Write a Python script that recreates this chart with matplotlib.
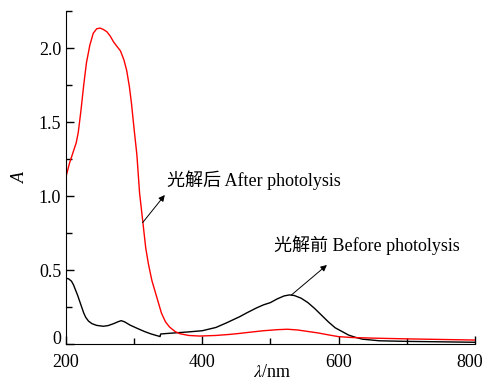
import matplotlib
matplotlib.use('Agg')
import matplotlib.pyplot as plt
import matplotlib.transforms as mtransforms
from matplotlib.ticker import MultipleLocator

plt.rcParams['font.family'] = ['Liberation Serif', 'Noto Sans CJK SC']
plt.rcParams['mathtext.fontset'] = 'stix'

# absorbance before photolysis (black)
wl_before = [200, 204, 208, 211, 214, 217, 220, 223, 226, 229, 233, 238, 245, 255, 262, 270, 276, 281, 286,
             294, 305, 315, 325, 337, 338, 339, 350, 362, 380, 400, 420, 435, 455, 465,
             480, 490, 500, 510, 520, 528, 535, 545, 555, 565, 575, 585, 595, 605, 615,
             625, 635, 660, 700, 750, 800]
a_before = [0.445, 0.44, 0.425, 0.40, 0.365, 0.33, 0.29, 0.25, 0.21, 0.18, 0.155, 0.138, 0.126, 0.12, 0.125, 0.138, 0.15, 0.158, 0.15,
            0.128, 0.105, 0.085, 0.068, 0.052, 0.05, 0.068, 0.072, 0.076, 0.082, 0.09, 0.112, 0.142, 0.185, 0.21,
            0.245, 0.265, 0.28, 0.305, 0.325, 0.332, 0.328, 0.31, 0.28, 0.24, 0.195, 0.15, 0.11, 0.085, 0.06,
            0.045, 0.033, 0.022, 0.018, 0.015, 0.012]

# absorbance after photolysis (red)
wl_after = [200, 205, 210, 215, 218, 222, 226, 230, 235, 240, 245, 250, 255, 260, 265, 270, 275, 280,
            285, 289, 293, 296, 300, 304, 308, 313, 317, 321, 326, 333, 340, 346, 352, 360, 367, 380,
            396, 420, 440, 455, 470, 490, 510, 525, 540, 555, 570, 585, 600, 620, 650, 700, 750, 800]
a_after = [1.13, 1.22, 1.29, 1.36, 1.43, 1.58, 1.75, 1.9, 2.02, 2.1, 2.13, 2.135, 2.125, 2.11, 2.08, 2.04, 2.01, 1.98,
           1.92, 1.85, 1.74, 1.63, 1.45, 1.28, 1.02, 0.815, 0.65, 0.54, 0.43, 0.32, 0.21, 0.15, 0.115, 0.085, 0.07, 0.058,
           0.054, 0.058, 0.065, 0.072, 0.08, 0.09, 0.097, 0.1, 0.095, 0.085, 0.075, 0.062, 0.05, 0.044, 0.04, 0.035, 0.031, 0.027]

x_ticks = [200, 400, 600, 800]
y_ticks = [0, 0.5, 1.0, 1.5, 2.0]
y_labels = ['0', '0.5', '1.0', '1.5', '2.0']

fig = plt.figure(figsize=(4.86, 3.81), dpi=100)
ax = fig.add_axes([0.1358, 0.097, 0.8412, 0.874])

ax.plot(wl_before, a_before, color='black', lw=1.0)
ax.plot(wl_after, a_after, color='#ff0000', lw=1.0)

ax.set_xlim(200, 800)
ax.set_ylim(0, 2.25)
ax.set_xticks(x_ticks)
ax.set_yticks(y_ticks)
ax.set_yticklabels(y_labels)
ax.xaxis.set_minor_locator(MultipleLocator(100))
ax.yaxis.set_minor_locator(MultipleLocator(0.25))
ax.tick_params(which='major', direction='in', length=6, width=1, labelsize=13)
ax.tick_params(which='minor', direction='in', length=4, width=1)
ax.tick_params(axis='x', pad=7)
ax.spines['top'].set_visible(False)
ax.spines['right'].set_visible(False)

# nudge the "0" up and the "800" left, as in the original
fig.canvas.draw()
ax.get_yticklabels()[0].set_transform(
    ax.get_yticklabels()[0].get_transform() + mtransforms.ScaledTranslation(0, 5 / 72, fig.dpi_scale_trans))
ax.get_xticklabels()[-1].set_transform(
    ax.get_xticklabels()[-1].get_transform() + mtransforms.ScaledTranslation(-4 / 72, 0, fig.dpi_scale_trans))

fig.text(0.56, 0.021, r'$\lambda$/nm', fontsize=13, ha='center', va='center')
ax.set_ylabel('A', fontsize=13, style='italic', labelpad=7)

arrow = dict(arrowstyle='-|>', color='black', lw=0.7, mutation_scale=9, shrinkA=0, shrinkB=0)
ax.text(348, 1.108, '光解后 After photolysis', fontsize=13, va='center', ha='left')
ax.annotate('', xy=(345, 1.007), xytext=(312.4, 0.82), arrowprops=arrow)
ax.text(506, 0.669, '光解前 Before photolysis', fontsize=13, va='center', ha='left')
ax.annotate('', xy=(582.9, 0.534), xytext=(530.7, 0.331), arrowprops=arrow)

fig.savefig('out.png', dpi=100)
